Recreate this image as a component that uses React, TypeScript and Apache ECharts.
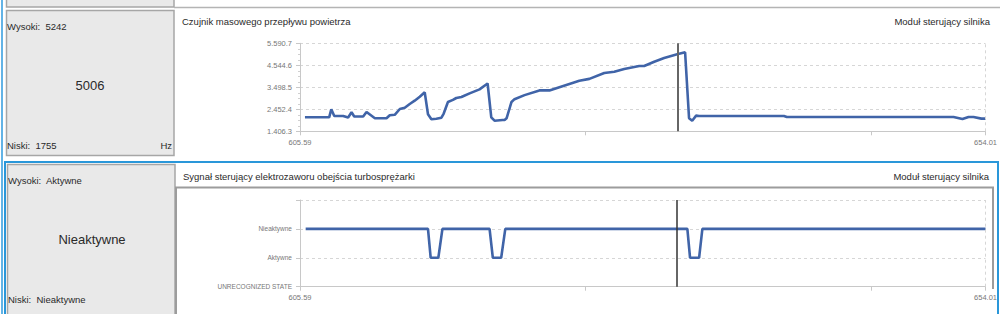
import React, { useEffect, useRef } from "react";
import * as echarts from "echarts";

// ---- data ----
const xMin = 605.59;
const xMax = 654.01;
const xTickStep = 20.18;
const cursorTop = 632.3;
const cursorBottom = 632.2;

const mafX = [605.94, 607.65, 607.8, 608.01, 608.64, 608.99, 609.23, 609.42, 610.05, 610.29, 610.88, 611.7, 611.93, 612.28, 612.64, 612.99, 613.34, 613.69, 614.05, 614.4, 614.63, 614.87, 615.22, 615.58, 615.74, 616.04, 616.39, 616.63, 616.99, 617.57, 618.27, 618.84, 619.1, 619.33, 619.9, 620.04, 620.18, 620.53, 620.74, 621.45, 622.5, 623.21, 623.91, 625.32, 626.03, 627.08, 627.79, 628.49, 629.55, 629.9, 630.61, 631.31, 632.23, 632.79, 633.07, 633.29, 633.57, 633.78, 639.77, 639.98, 651.75, 652.38, 652.81, 653.16, 653.72, 654.01];
const mafY = [2072, 2072, 2452, 2134, 2134, 2060, 2310, 2110, 2110, 2324, 2024, 2024, 2167, 2190, 2467, 2529, 2704, 2862, 3052, 3260, 2215, 1977, 2007, 2055, 2250, 2800, 2900, 2990, 3035, 3210, 3400, 3680, 2072, 1910, 1944, 1944, 2025, 2800, 2934, 3126, 3350, 3350, 3505, 3806, 3900, 4178, 4240, 4368, 4510, 4510, 4716, 4892, 5068, 5163, 2025, 1910, 2150, 2134, 2134, 2087, 2087, 1990, 2087, 2087, 2010, 2010];
const mafTicks = { min: 1406.3, max: 5590.7, step: 1046.1 };

const valveX = [605.99, 614.63, 614.82, 615.36, 615.65, 618.98, 619.21, 619.8, 620.09, 632.95, 633.14, 633.78, 634.01, 654.01];
const valveY = [2, 2, 1, 1, 2, 2, 1, 1, 2, 2, 1, 1, 2, 2];
const valveStates = ["UNRECOGNIZED STATE", "Aktywne", "Nieaktywne", ""];

const panel1 = { title: "Czujnik masowego przepływu powietrza", module: "Moduł sterujący silnika", high: "Wysoki:  5242", low: "Niski:  1755", value: "5006", unit: "Hz" };
const panel2 = { title: "Sygnał sterujący elektrozaworu obejścia turbosprężarki", module: "Moduł sterujący silnika", high: "Wysoki:  Aktywne", low: "Niski:  Nieaktywne", value: "Nieaktywne" };

const FONT = "Liberation Sans";
const BLUE = "#2a97d9";
const LINE = "#4064a8";

function fmtNum(v: number) {
  const s = v.toFixed(1);
  const [i, d] = s.split(".");
  return i.replace(/\B(?=(\d{3})+(?!\d))/g, ".") + "." + d;
}

function xLabel(v: number) {
  if (Math.abs(v - xMin) < 1e-6) return xMin.toFixed(2);
  if (Math.abs(v - xMax) < 1e-6) return xMax.toFixed(2);
  return "";
}

function txt(text: string, x: number, y: number, size: number, align = "left", color = "#2a2a2a") {
  return {
    type: "text",
    x,
    y,
    z: 5,
    style: { text, fill: color, font: `${size}px "${FONT}"`, textAlign: align, textVerticalAlign: "middle", verticalAlign: "middle" },
  };
}

export default function App() {
  const ref = useRef<HTMLDivElement>(null);
  useEffect(() => {
    if (!ref.current) return;
    const chart = echarts.init(ref.current, null, { renderer: "svg" });
    const xAxisBase = (gridIndex: number) => ({
      type: "value",
      gridIndex,
      min: xMin,
      max: xMax,
      interval: xTickStep,
      axisLine: { show: true, lineStyle: { color: "#c8c8c8", width: 1 } },
      axisTick: { show: true, length: 4, lineStyle: { color: "#c8c8c8" } },
      splitLine: { show: false },
      axisLabel: { formatter: xLabel, fontSize: 7.5, color: "#777", fontFamily: FONT, margin: 7, showMinLabel: true, showMaxLabel: true },
    });
    const option: any = {
      animation: false,
      backgroundColor: "#fff",
      grid: [
        { left: 300, right: 13, top: 43.3, height: 88 },
        { left: 300, right: 13, top: 200, height: 86.7 },
      ],
      xAxis: [xAxisBase(0), xAxisBase(1)],
      yAxis: [
        {
          type: "value",
          gridIndex: 0,
          min: mafTicks.min,
          max: mafTicks.max,
          interval: mafTicks.step,
          axisLine: { show: true, lineStyle: { color: "#c8c8c8" } },
          axisTick: { show: true, length: 4, lineStyle: { color: "#c8c8c8" } },
          minorTick: { show: true, splitNumber: 4, length: 2, lineStyle: { color: "#d0d0d0" } },
          splitLine: { show: true, lineStyle: { type: [3, 3], color: "#d6d6d6" } },
          axisLabel: { formatter: fmtNum, fontSize: 7.5, color: "#777", fontFamily: FONT, margin: 8 },
        },
        {
          type: "value",
          gridIndex: 1,
          min: 0,
          max: 3,
          interval: 1,
          axisLine: { show: true, lineStyle: { color: "#c8c8c8" } },
          axisTick: { show: true, length: 4, lineStyle: { color: "#c8c8c8" } },
          splitLine: { show: true, lineStyle: { type: [3, 3], color: "#d6d6d6" } },
          axisLabel: { formatter: (v: number) => valveStates[Math.round(v)] ?? "", fontSize: 6.5, color: "#777", fontFamily: FONT, margin: 8 },
        },
      ],
      series: [
        {
          type: "line",
          xAxisIndex: 0,
          yAxisIndex: 0,
          data: mafX.map((x, i) => [x, mafY[i]]),
          showSymbol: false,
          lineStyle: { color: LINE, width: 2.6 },
          itemStyle: { color: LINE },
          markLine: {
            silent: true,
            symbol: "none",
            label: { show: false },
            animation: false,
            data: [
              { xAxis: cursorTop, lineStyle: { color: "#666", width: 2, type: "solid" } },
              { xAxis: xMax, lineStyle: { color: "#d6d6d6", width: 1, type: [3, 3] } },
            ],
          },
        },
        {
          type: "line",
          xAxisIndex: 1,
          yAxisIndex: 1,
          data: valveX.map((x, i) => [x, valveY[i]]),
          showSymbol: false,
          lineStyle: { color: LINE, width: 2.6 },
          itemStyle: { color: LINE },
          markLine: {
            silent: true,
            symbol: "none",
            label: { show: false },
            animation: false,
            data: [
              { xAxis: cursorBottom, lineStyle: { color: "#333", width: 1.5, type: "solid" } },
              { xAxis: xMax, lineStyle: { color: "#d6d6d6", width: 1, type: [3, 3] } },
            ],
          },
        },
      ],
      graphic: [
        { type: "rect", z: -5, shape: { x: 6.5, y: -3, width: 167.5, height: 10 }, style: { fill: "#e9e9e9", stroke: "#a6a6a6", lineWidth: 1.5 } },
        { type: "line", z: -5, shape: { x1: 174, y1: 7.5, x2: 1000, y2: 7.5 }, style: { stroke: "#b4b4b4", lineWidth: 1.5 } },
        { type: "rect", z: -4, shape: { x: 1, y: 0, width: 2, height: 314 }, style: { fill: "#62b3e6" } },
        { type: "rect", z: -5, shape: { x: 6.5, y: 10.5, width: 167.5, height: 145 }, style: { fill: "#e9e9e9", stroke: "#a6a6a6", lineWidth: 1.5 } },
        { type: "rect", z: -6, shape: { x: 5, y: 162, width: 993, height: 160 }, style: { fill: "#fff", stroke: BLUE, lineWidth: 2 } },
        { type: "rect", z: -5, shape: { x: 7.5, y: 164.5, width: 167.5, height: 160 }, style: { fill: "#e9e9e9", stroke: "#a6a6a6", lineWidth: 1.5 } },
        { type: "polyline", z: -5, shape: { points: [[176, 316], [176, 187.5], [993, 187.5], [993, 289]] }, style: { fill: "none", stroke: "#9c9c9c", lineWidth: 2 } },
        txt(panel1.high, 7, 26.5, 9.5),
        txt(panel1.value, 90, 85, 13, "center"),
        txt(panel1.low, 7, 145, 9.5),
        txt(panel1.unit, 172, 145, 9.5, "right"),
        txt(panel1.title, 182, 21.7, 9.5),
        txt(panel1.module, 990, 21.7, 9.5, "right"),
        txt(panel2.high, 8, 180.7, 9.5),
        txt(panel2.value, 92, 239.5, 13, "center"),
        txt(panel2.low, 8, 299, 9.5),
        txt(panel2.title, 183, 176, 9.5),
        txt(panel2.module, 989, 176.5, 9.5, "right"),
      ],
    };
    chart.setOption(option);
    return () => chart.dispose();
  }, []);
  return <div ref={ref} style={{ position: "fixed", left: 0, top: 0, width: 1000, height: 314 }} />;
}
